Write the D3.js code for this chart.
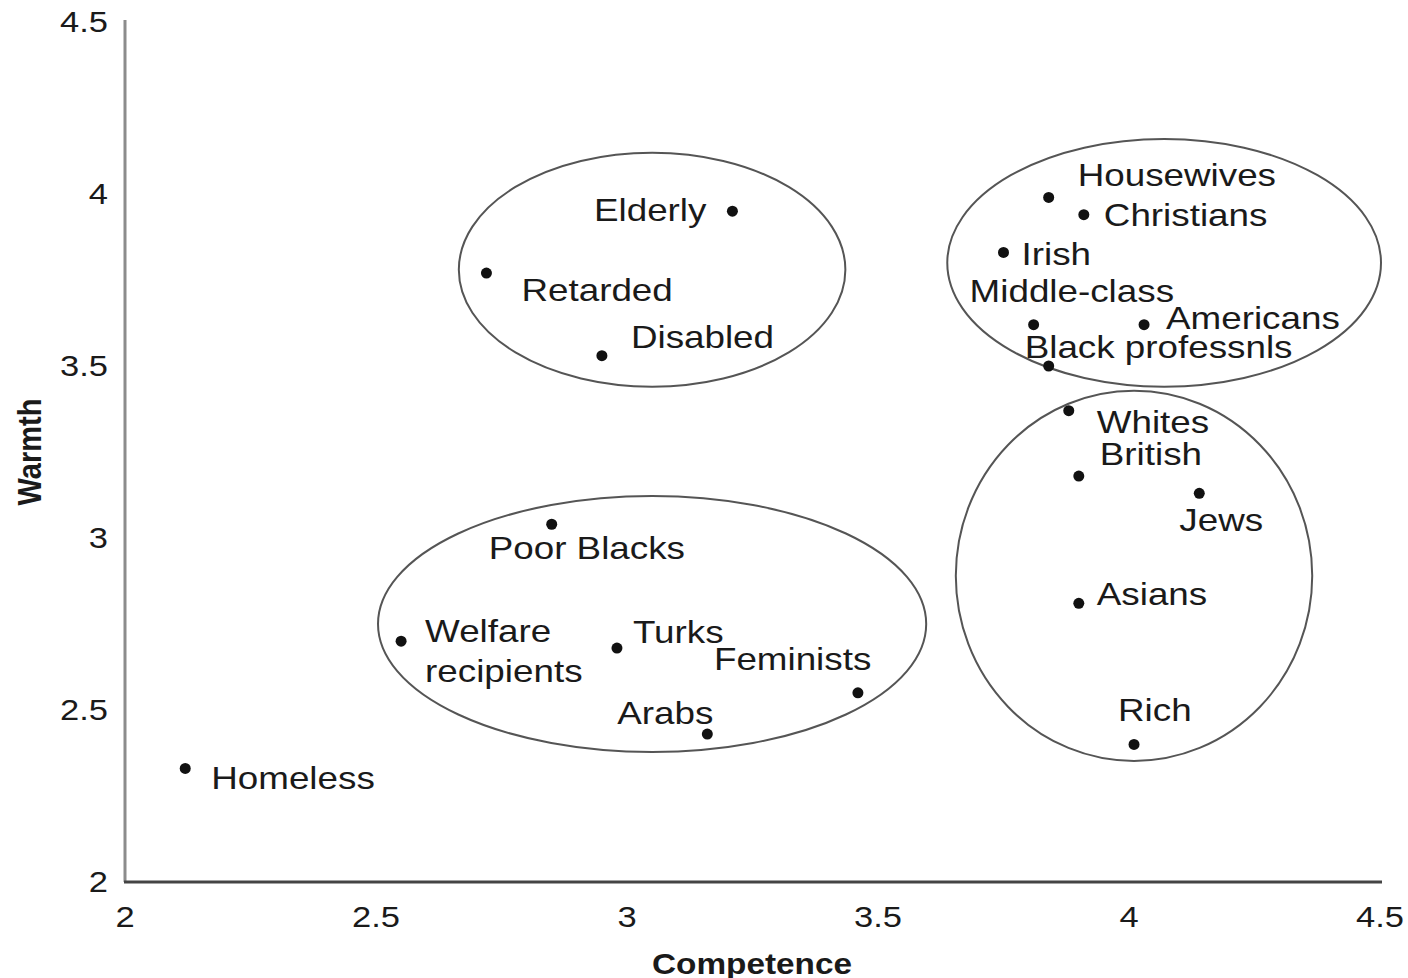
<html>
<head>
<meta charset="utf-8">
<script src="https://cdn.jsdelivr.net/npm/d3@7"></script>
<style>
    body { margin: 0; background: #fff; }
    text { font-family: "Liberation Sans", Arial, sans-serif; fill: #1a1a1a; }
</style>
</head>
<body>
<div id="chart"></div>
<script>
// groups and their (competence, warmth) scores
var names = ["Homeless", "Retarded", "Elderly", "Disabled",
    "Poor Blacks", "Welfare", "Turks", "Arabs", "Feminists",
    "Housewives", "Christians", "Irish", "Middle-class", "Americans", "Black professnls",
    "Whites", "British", "Jews", "Asians", "Rich"];
var competence = [2.12, 2.72, 3.21, 2.95,
    2.85, 2.55, 2.98, 3.16, 3.46,
    3.84, 3.91, 3.75, 3.81, 4.03, 3.84,
    3.88, 3.90, 4.14, 3.90, 4.01];
var warmth = [2.33, 3.77, 3.95, 3.53,
    3.04, 2.70, 2.68, 2.43, 2.55,
    3.99, 3.94, 3.83, 3.62, 3.62, 3.50,
    3.37, 3.18, 3.13, 2.81, 2.40];

// cluster ellipses: centre and radii in data units
var clusterCx = [3.05, 4.07, 4.01, 3.05];
var clusterCy = [3.78, 3.80, 2.89, 2.75];
var clusterRx = [0.385, 0.432, 0.355, 0.546];
var clusterRy = [0.34, 0.36, 0.538, 0.372];

var xTicks = [2, 2.5, 3, 3.5, 4, 4.5];
var yTicks = [2, 2.5, 3, 3.5, 4, 4.5];

// label placement relative to each point (px)
var labelPos = {
    "Homeless": [26, 21, "start"],
    "Retarded": [35, 28, "start"],
    "Elderly": [-26, 10, "end"],
    "Disabled": [29, -8, "start"],
    "Poor Blacks": [-63, 35, "start"],
    "Welfare": [24, 1, "start"],
    "Turks": [16, -5, "start"],
    "Arabs": [-90, -10, "start"],
    "Feminists": [-144, -23, "start"],
    "Housewives": [29, -11, "start"],
    "Christians": [20, 11, "start"],
    "Irish": [18, 13, "start"],
    "Middle-class": [-64, -23, "start"],
    "Americans": [22, 4, "start"],
    "Black professnls": [-24, -8, "start"],
    "Whites": [28, 22, "start"],
    "British": [21, -11, "start"],
    "Jews": [-20, 38, "start"],
    "Asians": [18, 2, "start"],
    "Rich": [-16, -23, "start"]
};

var width = 1408;
var height = 978;
var stretch = 1.15;

var svg = d3.select("#chart").append("svg")
    .attr("width", width)
    .attr("height", height);

var xs = d3.scaleLinear().domain([2, 4.5]).range([125, 1380]);
var ys = d3.scaleLinear().domain([2, 4.5]).range([882, 22]);

function label(x, y, txt, anchor, size, weight) {
    return svg.append("g")
        .attr("transform", "translate(" + x + "," + y + ") scale(" + stretch + ",1)")
        .append("text")
        .attr("text-anchor", anchor)
        .style("font-size", size + "px")
        .style("font-weight", weight || "normal")
        .text(txt);
}

// ellipses
clusterCx.forEach(function (c, i) {
    svg.append("ellipse")
        .attr("cx", xs(c))
        .attr("cy", ys(clusterCy[i]))
        .attr("rx", xs(c + clusterRx[i]) - xs(c))
        .attr("ry", ys(clusterCy[i]) - ys(clusterCy[i] + clusterRy[i]))
        .attr("fill", "none")
        .attr("stroke", "#555")
        .attr("stroke-width", 2);
});

// axes
svg.append("line")
    .attr("x1", xs(2)).attr("x2", xs(2))
    .attr("y1", ys(4.5) - 2).attr("y2", ys(2))
    .attr("stroke", "#8c8c8c").attr("stroke-width", 3);
svg.append("line")
    .attr("x1", xs(2) - 1).attr("x2", xs(4.5) + 2)
    .attr("y1", ys(2)).attr("y2", ys(2))
    .attr("stroke", "#444").attr("stroke-width", 3);

xTicks.forEach(function (t) {
    label(xs(t), 927, t, "middle", 30);
});
yTicks.forEach(function (t) {
    label(108, ys(t) + 10, t, "end", 30);
});

label(752, 974, "Competence", "middle", 29, "bold");
svg.append("g")
    .attr("transform", "translate(41,452) scale(" + stretch + ",1) rotate(-90)")
    .append("text")
    .attr("text-anchor", "middle")
    .style("font-size", "29px")
    .style("font-weight", "bold")
    .text("Warmth");

// points
names.forEach(function (n, i) {
    var px = xs(competence[i]);
    var py = ys(warmth[i]);
    svg.append("circle")
        .attr("cx", px)
        .attr("cy", py)
        .attr("r", 5.5)
        .attr("fill", "#111");
    var p = labelPos[n];
    label(px + p[0], py + p[1], n, p[2], 32);
    if (n === "Welfare") {
        label(px + p[0], py + p[1] + 40, "recipients", "start", 32);
    }
});
</script>
</body>
</html>
